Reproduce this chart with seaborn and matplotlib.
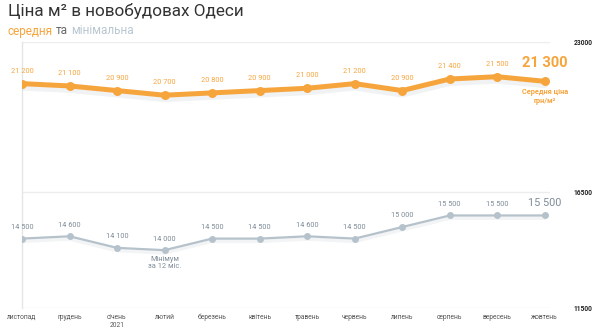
import numpy as np
import pandas as pd
import matplotlib
matplotlib.use("Agg")
import matplotlib.pyplot as plt
import matplotlib.patheffects as pe
import seaborn as sns

months = ["листопад", "грудень", "січень\n2021", "лютий", "березень", "квітень",
          "травень", "червень", "липень", "серпень", "вересень", "жовтень"]
avg_price = [21200, 21100, 20900, 20700, 20800, 20900, 21000, 21200, 20900, 21400, 21500, 21300]
min_price = [14500, 14600, 14100, 14000, 14500, 14500, 14600, 14500, 15000, 15500, 15500, 15500]
y_ticks = [11500, 16500, 23000]

ORANGE = "#F6A53D"
GRAY_LINE = "#B5C2CB"
GRAY_TEXT = "#7E8C97"
LIGHT_BLUE = "#B9C7D1"
DARK = "#333333"

sns.set_theme(style="white")
plt.rcParams["font.family"] = ["Roboto", "DejaVu Sans"]

df = pd.DataFrame({"x": np.arange(len(months)), "avg": avg_price, "min": min_price})

fig = plt.figure(figsize=(6, 3.28), dpi=100)
ax = fig.add_axes([22/600, 1-308/328, (550-22)/600, (308-42)/328])

shadow = [pe.SimpleLineShadow(offset=(0, -2.5), shadow_color="#9aa5ad", alpha=0.14, linewidth=5), pe.Normal()]
sns.lineplot(data=df, x="x", y="avg", ax=ax, color=ORANGE, linewidth=3.6,
             path_effects=shadow, zorder=3)
sns.scatterplot(data=df, x="x", y="avg", ax=ax, color=ORANGE, s=42, linewidth=0, zorder=4)
shadow2 = [pe.SimpleLineShadow(offset=(0, -2), shadow_color="#9aa5ad", alpha=0.12, linewidth=2.5), pe.Normal()]
sns.lineplot(data=df, x="x", y="min", ax=ax, color=GRAY_LINE, linewidth=1.6,
             path_effects=shadow2, zorder=3)
sns.scatterplot(data=df, x="x", y="min", ax=ax, color=GRAY_LINE, s=25, linewidth=0, zorder=4)

def fmt(v):
    return f"{v:,}".replace(",", " ")

n = len(months)
for i in range(n - 1):
    ax.annotate(fmt(avg_price[i]), (i, avg_price[i]), xytext=(0, 9), textcoords="offset points",
                ha="center", va="center", fontsize=5.3, color=ORANGE)
    ax.annotate(fmt(min_price[i]), (i, min_price[i]), xytext=(0, 8), textcoords="offset points",
                ha="center", va="center", fontsize=5.3, color=GRAY_TEXT)

ax.annotate(fmt(avg_price[-1]), (n-1, avg_price[-1]), xytext=(0, 13.5), textcoords="offset points",
            ha="center", va="center", fontsize=10.5, fontweight="bold", color=ORANGE)
ax.annotate("Середня ціна\nгрн/м²", (n-1, avg_price[-1]), xytext=(0, -11), textcoords="offset points",
            ha="center", va="center", fontsize=5.3, fontweight="bold", color=ORANGE, linespacing=1.1)
ax.annotate(fmt(min_price[-1]), (n-1, min_price[-1]), xytext=(0, 9), textcoords="offset points",
            ha="center", va="center", fontsize=7.8, color=GRAY_TEXT)
imin = int(np.argmin(min_price))
ax.annotate("Мінімум\nза 12 міс.", (imin, min_price[imin]), xytext=(0, -9.5), textcoords="offset points",
            ha="center", va="center", fontsize=5.3, color=GRAY_TEXT, linespacing=1.05)

ax.set_xlim(0, n - 1 + 0.11)
ax.set_ylim(y_ticks[0], y_ticks[-1])
ax.set_xticks(np.arange(n))
ax.set_xticklabels(months, fontsize=4.8, color="#555555", linespacing=1.3)
ax.yaxis.tick_right()
ax.set_yticks(y_ticks)
ax.set_yticklabels([str(t) for t in y_ticks], fontsize=4.8, fontweight="bold", color="#222222")
ax.tick_params(axis="y", length=0, pad=17)
ax.tick_params(axis="x", length=0, pad=4)
for lab in ax.get_xticklabels():
    lab.set_va("top")
ax.set_xlabel("")
ax.set_ylabel("")
ax.grid(axis="y", color="#EBEDEF", linewidth=1)
ax.grid(axis="x", visible=False)
for s in ["top", "right", "bottom"]:
    ax.spines[s].set_visible(False)
ax.spines["left"].set_color("#E3E6E9")
ax.spines["left"].set_linewidth(1)

fig.text(8/600, 1-11/328, "Ціна м² в новобудовах Одеси", fontsize=12.3, color=DARK, va="center", ha="left")
t1 = fig.text(8/600, 1-31/328, "середня", fontsize=8.5, color=ORANGE, va="center", ha="left")
fig.canvas.draw()
r = fig.canvas.get_renderer()
bb = t1.get_window_extent(r)
t2 = fig.text(bb.x1/600 + 3/600, 1-31/328, "та", fontsize=8.5, color="#666666", va="center", ha="left")
bb2 = t2.get_window_extent(r)
fig.text(bb2.x1/600 + 3/600, 1-31/328, "мінімальна", fontsize=8.5, color=LIGHT_BLUE, va="center", ha="left")

fig.savefig("out.png", dpi=100)
